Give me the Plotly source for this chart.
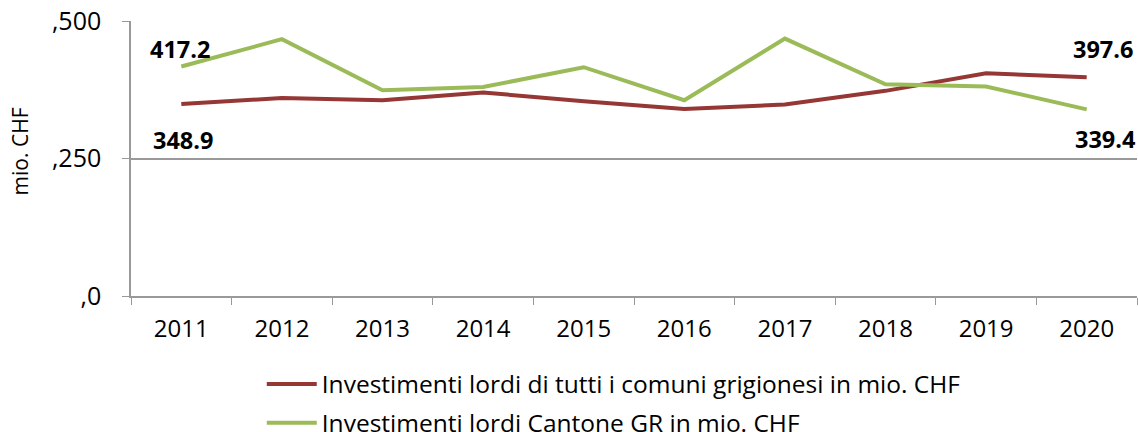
import plotly.graph_objects as go

years = ["2011", "2012", "2013", "2014", "2015", "2016", "2017", "2018", "2019", "2020"]
comuni = [348.9, 360, 356, 370, 354, 340, 348, 373, 405, 397.6]
cantone = [417.2, 467, 374, 380, 416, 356, 468, 385, 381, 339.4]
name_comuni = "Investimenti lordi di tutti i comuni grigionesi in mio. CHF"
name_cantone = "Investimenti lordi Cantone GR in mio. CHF"
y_tickvals = [0, 250, 500]
y_ticktext = [",0", ",250", ",500"]

RED = "#953735"
GREEN = "#9BBB59"
FONT = "Open Sans"

fig = go.Figure()
fig.add_trace(go.Scatter(x=years, y=comuni, mode="lines", name=name_comuni,
                         line=dict(color=RED, width=4), legendgroup="a"))
fig.add_trace(go.Scatter(x=years, y=cantone, mode="lines", name=name_cantone,
                         line=dict(color=GREEN, width=4), legendgroup="b"))

lab_font = dict(family=FONT, size=23.5, color="#000000")
first, last = 0, len(years) - 1
ann = [
    (first, cantone[first], 18, -1, "center"),
    (first, comuni[first], -36, 2, "center"),
    (last, comuni[last], 28, 48, "right"),
    (last, cantone[last], -30, 51, "right"),
]
for x, y, ys, xs, xa in ann:
    fig.add_annotation(x=x, y=y, xref="x", yref="y", text="<b>%.1f</b>" % y,
                       showarrow=False, yshift=ys, xshift=xs, xanchor=xa,
                       font=lab_font)

fig.add_annotation(xref="paper", yref="paper", x=-0.110, y=0.527,
                   xanchor="center", yanchor="middle",
                   text="mio. CHF", textangle=-90, showarrow=False,
                   font=dict(family=FONT, size=21, color="#000000"))

fig.update_layout(
    width=1138, height=432,
    margin=dict(l=131, r=1, t=21, b=136, autoexpand=False),
    paper_bgcolor="white", plot_bgcolor="white",
    font=dict(family=FONT, color="#000000"),
    showlegend=True,
    legend=dict(orientation="v", x=0.130, xanchor="left", y=-0.238, yanchor="top",
                font=dict(family=FONT, size=24.5, color="#000000"),
                tracegroupgap=4, traceorder="grouped", itemwidth=50, maxheight=300),
    xaxis=dict(type="category", range=[-0.5, len(years) - 0.5], automargin=False,
               tickson="boundaries", ticks="outside", ticklen=7,
               tickcolor="#999999", showline=True, linecolor="#999999", linewidth=1.5,
               showgrid=False, tickfont=dict(family=FONT, size=24, color="#000000"),
               ticklabelstandoff=10, fixedrange=True),
    yaxis=dict(range=[0, 500], tickvals=y_tickvals, ticktext=y_ticktext, automargin=False,
               ticks="outside", ticklen=7, tickcolor="#999999", ticklabeloverflow="allow",
               showline=True, linecolor="#999999", linewidth=1.5,
               showgrid=True, gridcolor="#999999", gridwidth=1.5,
               zeroline=False, tickfont=dict(family=FONT, size=25, color="#000000"),
               ticklabelstandoff=16, fixedrange=True),
)

fig.write_html("out.html", config={"displayModeBar": False},
               post_script="document.body.style.margin='0px';")
